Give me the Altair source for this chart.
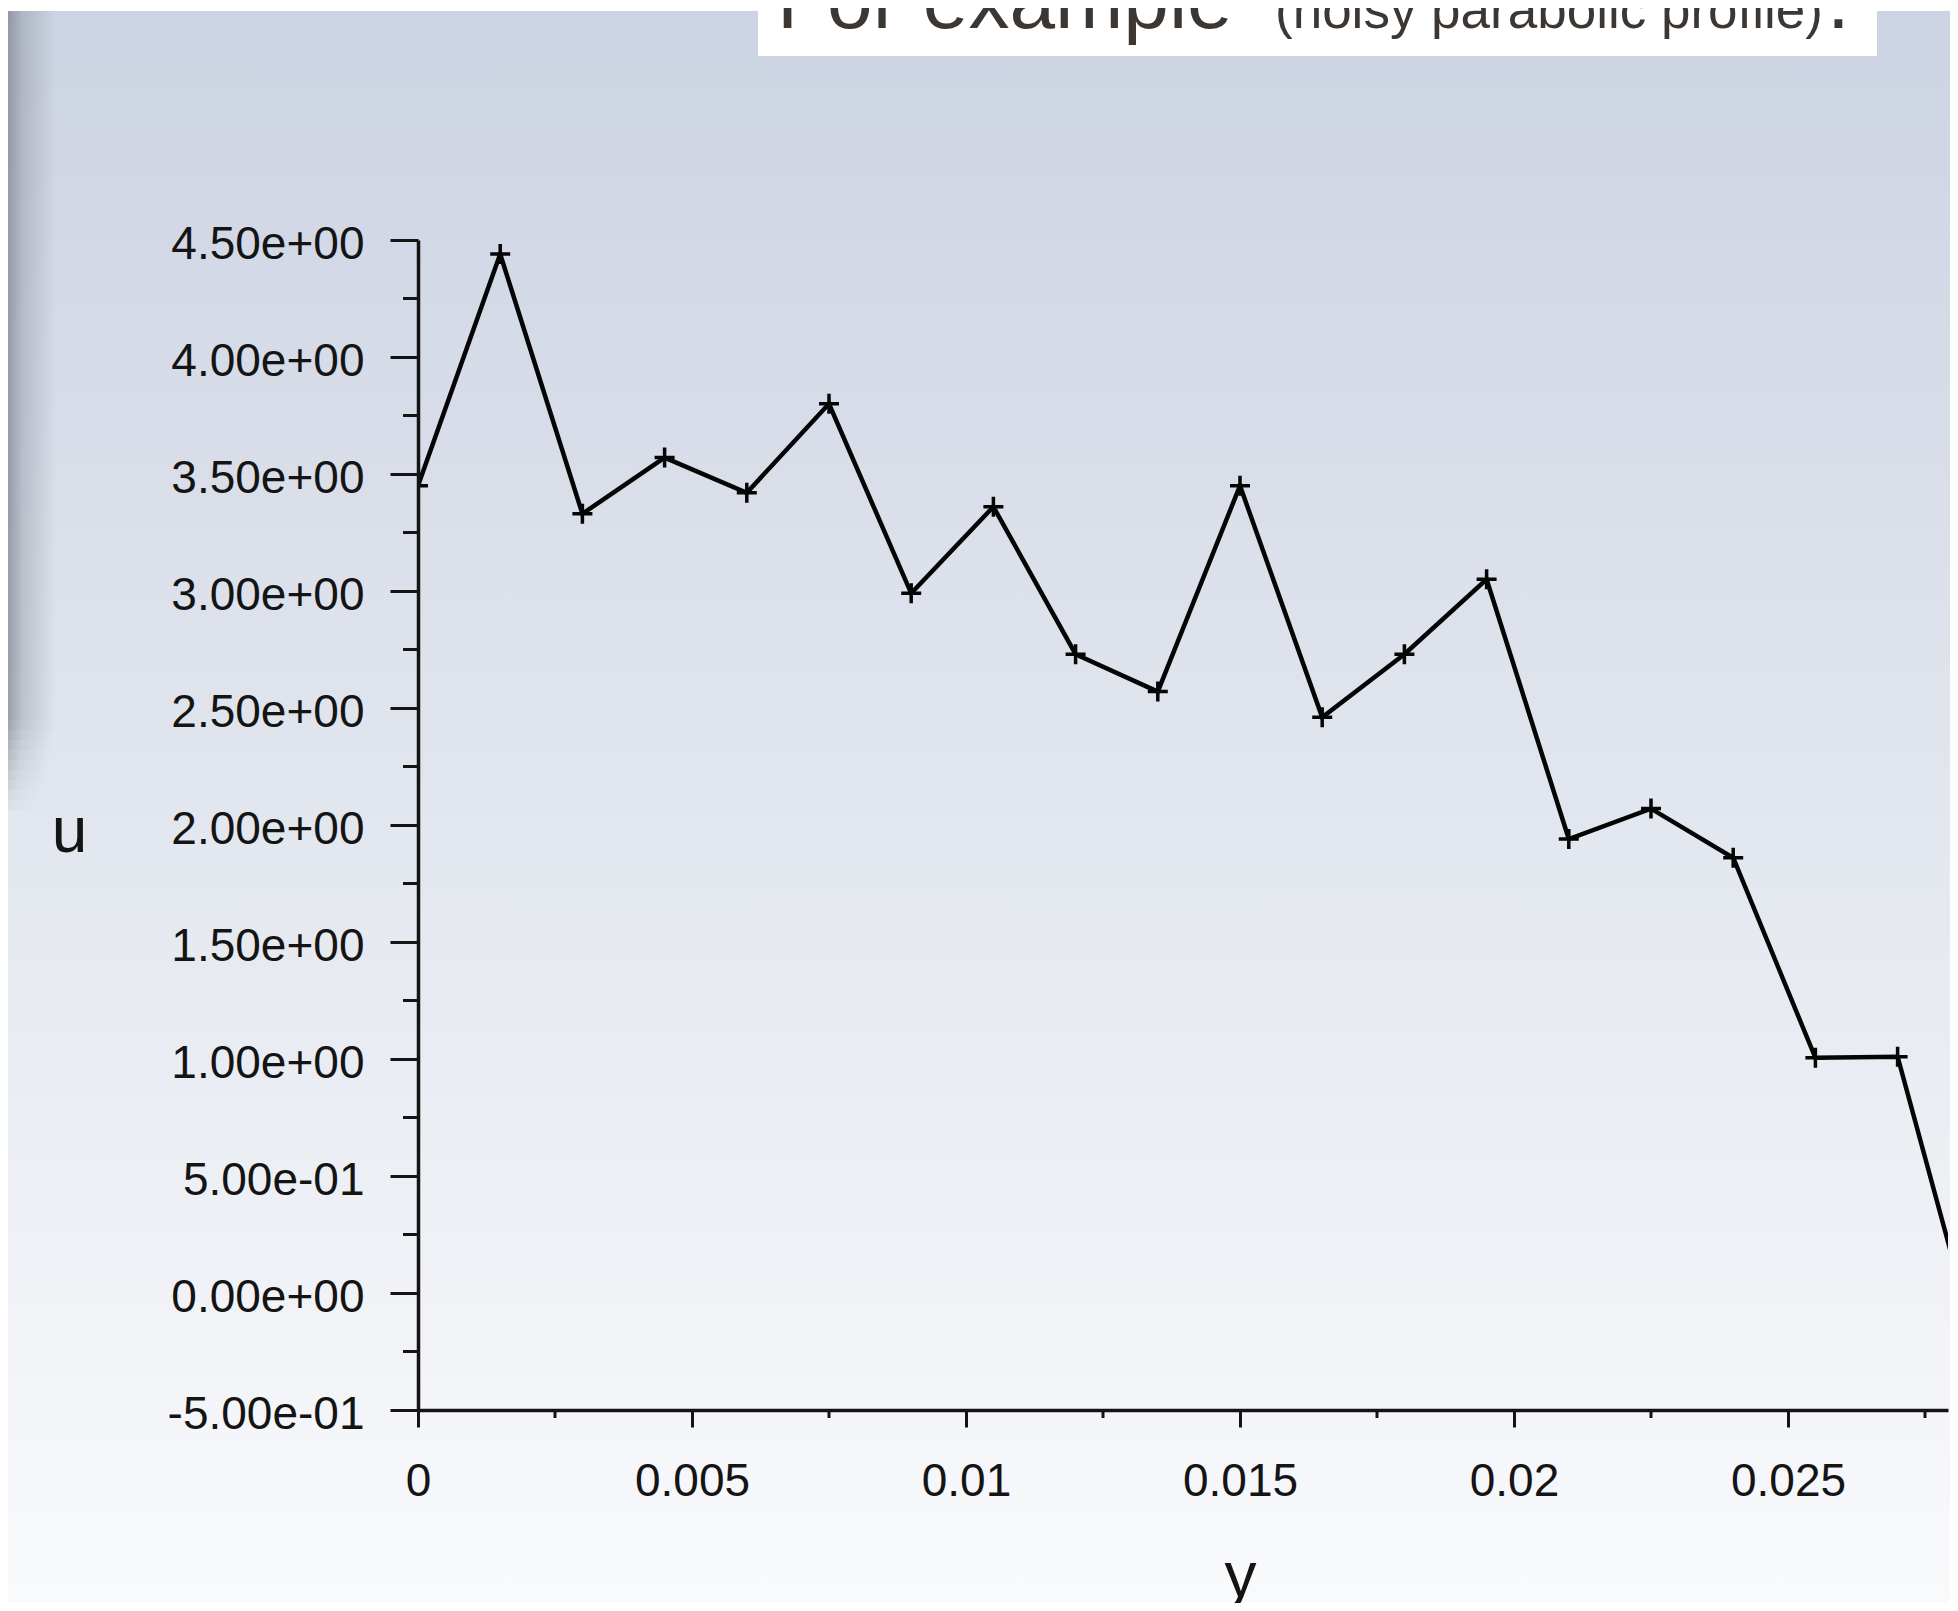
import json
import altair as alt
import pandas as pd

# ---------------- data ----------------
y_pos = [0.0, 0.0015, 0.003, 0.0045, 0.006, 0.0075, 0.009, 0.0105, 0.012, 0.0135,
         0.015, 0.0165, 0.018, 0.0195, 0.021, 0.0225, 0.024, 0.0255, 0.027, 0.0285]
u_vals = [3.45, 4.44, 3.33, 3.57, 3.42, 3.80, 2.99, 3.36, 2.73, 2.57,
          3.45, 2.46, 2.73, 3.05, 1.94, 2.07, 1.86, 1.005, 1.01, -0.28]

x_major = [0.0, 0.005, 0.01, 0.015, 0.02, 0.025]
x_labels = ["0", "0.005", "0.01", "0.015", "0.02", "0.025"]
x_minor = [0.0025, 0.0075, 0.0125, 0.0175, 0.0225, 0.0275]

y_major = [-0.5, 0.0, 0.5, 1.0, 1.5, 2.0, 2.5, 3.0, 3.5, 4.0, 4.5]
y_labels = ["-5.00e-01", "0.00e+00", "5.00e-01", "1.00e+00", "1.50e+00", "2.00e+00",
            "2.50e+00", "3.00e+00", "3.50e+00", "4.00e+00", "4.50e+00"]
y_minor = [-0.25, 0.25, 0.75, 1.25, 1.75, 2.25, 2.75, 3.25, 3.75, 4.25]

title_main = "For example"
title_sub = "(noisy parabolic profile)"
title_end = "."

# ---------------- layout ----------------
W, H = 1530, 1170
PAD = {"left": 410, "top": 232, "right": 2, "bottom": 193}
FONT = "Liberation Sans"
INK = "#141414"
LBL = 46

df = pd.DataFrame({"y": y_pos, "u": u_vals})
df_xminor = pd.DataFrame({"y": x_minor})
df_yminor = pd.DataFrame({"u": y_minor})
one = pd.DataFrame({"k": [0]})

x_scale = alt.Scale(domain=[0, 0.005 * W / 274.0], nice=False, zero=False)
y_scale = alt.Scale(domain=[-0.5, 4.5], nice=False, zero=False)

x_axis = alt.Axis(
    values=x_major,
    labelExpr=json.dumps(x_labels) + "[round(datum.value/0.005)]",
    tickSize=17, labelPadding=32, grid=False,
    title="y", titleX=822, titleY=186, titleAlign="center", titleBaseline="alphabetic",
    titleFontSize=64, titleFontWeight="normal", titleFont=FONT, titleColor=INK,
    labelFont=FONT, labelFontSize=LBL, labelColor=INK, labelLimit=0,
    domainColor=INK, domainWidth=3.5, tickColor=INK, tickWidth=3,
    labelFlush=False, labelOverlap=False, zindex=1,
)
y_axis = alt.Axis(
    values=y_major,
    labelExpr=json.dumps(y_labels) + "[round((datum.value+0.5)*2)]",
    tickSize=28, labelPadding=26, labelOffset=4, grid=False,
    title="u", titleAngle=0, titleX=-349, titleY=611, titleAlign="center",
    titleBaseline="alphabetic", titleFontSize=64, titleFontWeight="normal",
    titleFont=FONT, titleColor=INK,
    labelFont=FONT, labelFontSize=LBL, labelColor=INK, labelLimit=0,
    domainColor=INK, domainWidth=3.5, tickColor=INK, tickWidth=3,
    labelFlush=False, labelOverlap=False, zindex=1,
)

x_enc = alt.X("y:Q", scale=x_scale, axis=x_axis)
y_enc = alt.Y("u:Q", scale=y_scale, axis=y_axis)

# background gradient
bg = alt.Chart(one).mark_rect(
    color=alt.LinearGradient(
        gradient="linear", x1=0, x2=0, y1=0, y2=1,
        stops=[alt.GradientStop(color="#ccd3e2", offset=0),
               alt.GradientStop(color="#e2e6ee", offset=0.5),
               alt.GradientStop(color="#f9fafc", offset=1)])
).encode(x=alt.value(-410), x2=alt.value(W + 2), y=alt.value(-229), y2=alt.value(H + 193))

# left-edge shadow (with a soft, stepped fade at its bottom)
shadow_grad = alt.LinearGradient(
    gradient="linear", x1=0, x2=1, y1=0, y2=0,
    stops=[alt.GradientStop(color="rgba(115,121,133,0.65)", offset=0),
           alt.GradientStop(color="rgba(115,121,133,0.32)", offset=0.3),
           alt.GradientStop(color="rgba(115,121,133,0)", offset=1)])
shadow_layers = [alt.Chart(one).mark_rect(color=shadow_grad).encode(
    x=alt.value(-410), x2=alt.value(-362), y=alt.value(-229), y2=alt.value(480))]
steps = 9
for i in range(steps):
    shadow_layers.append(
        alt.Chart(one).mark_rect(color=shadow_grad, opacity=1 - (i + 1) / (steps + 1)).encode(
            x=alt.value(-410), x2=alt.value(-362 - 2 * i),
            y=alt.value(480 + 10 * i), y2=alt.value(490 + 10 * i)))

# title box + text
tbox = alt.Chart(one).mark_rect(color="white").encode(
    x=alt.value(340), x2=alt.value(1459), y=alt.value(-232), y2=alt.value(-184))
t1 = alt.Chart(one).mark_text(text=title_main, align="left", baseline="alphabetic",
                              font=FONT, fontSize=82, color="#3c3733").encode(
    x=alt.value(359), y=alt.value(-212))
t2 = alt.Chart(one).mark_text(text=title_sub, align="left", baseline="alphabetic",
                              font=FONT, fontSize=53, color="#3c3733").encode(
    x=alt.value(857), y=alt.value(-212))
t3 = alt.Chart(one).mark_text(text=title_end, align="left", baseline="alphabetic",
                              font=FONT, fontSize=82, color="#3c3733").encode(
    x=alt.value(1409), y=alt.value(-212))

# minor ticks
xm = alt.Chart(df_xminor).mark_rule(color=INK, strokeWidth=3, clip=False).encode(
    x=x_enc, y=alt.value(H), y2=alt.value(H + 8))
ym = alt.Chart(df_yminor).mark_rule(color=INK, strokeWidth=3, clip=False).encode(
    y=y_enc, x=alt.value(-15), x2=alt.value(0))

line = alt.Chart(df).mark_line(color="#050505", strokeWidth=4.5, clip=True).encode(x=x_enc, y=y_enc)
pts = alt.Chart(df).mark_point(shape="M-1,0L1,0M0,-1L0,1", filled=False, strokeWidth=3.5,
                               size=400, color="#050505", opacity=1, clip=True).encode(x=x_enc, y=y_enc)

chart = alt.layer(bg, *shadow_layers, tbox, t1, t2, t3, xm, ym, line, pts).properties(
    width=W, height=H,
    autosize=alt.AutoSizeParams(type="none"),
    padding=PAD,
    background="white",
).configure_view(stroke=None)

chart.save("out.html", embed_options={"renderer": "svg", "actions": False})
